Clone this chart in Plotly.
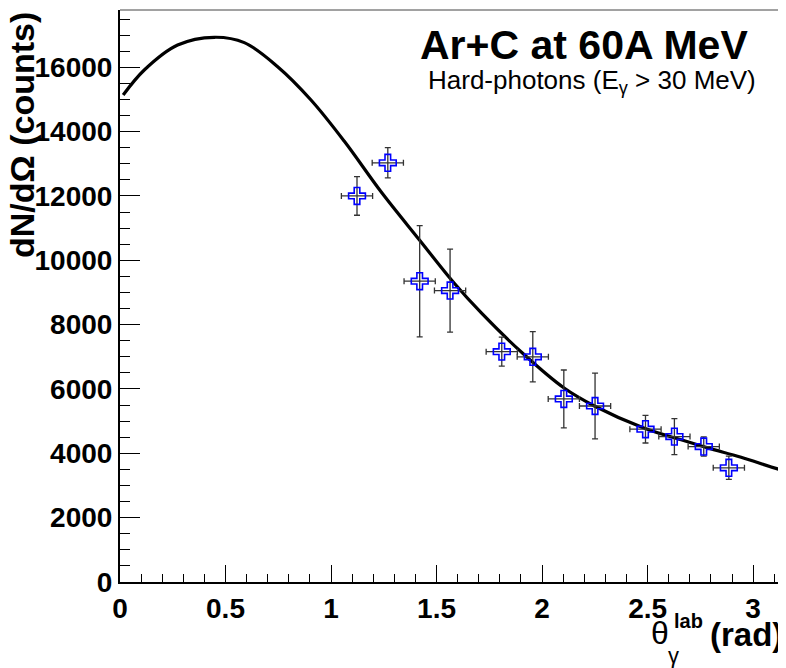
import plotly.graph_objects as go

# Data points (theta in rad, dN/dOmega in counts)
theta = [1.123, 1.269, 1.420, 1.564, 1.809, 1.956, 2.103, 2.251, 2.490, 2.627, 2.766, 2.885]
counts = [12000, 13030, 9350, 9060, 7160, 7000, 5690, 5470, 4750, 4520, 4210, 3550]
err_counts = [600, 470, 1730, 1290, 450, 780, 900, 1020, 430, 560, 300, 360]
err_theta = [0.074] * 12

# Fit curve
fit_theta = [0.015, 0.115, 0.273, 0.447, 0.589, 0.747, 0.905, 1.063, 1.237, 1.419,
             1.584, 1.711, 1.908, 2.106, 2.248, 2.485, 2.659, 2.785, 2.943, 3.124, 3.1416]
fit_counts = [15140, 15915, 16692, 16932, 16765, 16018, 14983, 13700, 12130, 10631,
              9285, 8371, 7109, 6021, 5471, 4778, 4420, 4170, 3876, 3503, 3490]

# The page body has an 8 px margin; size the figure so it fills the 786x668 window.
OFF = 8
W, H = 786 - OFF, 668 - OFF
L, R, T, B = 120, 783, 10, 582          # plot frame in window pixels


def px(xp):
    return (xp - L) / (R - L)


def py(yp):
    return (B - yp) / (B - T)


fig = go.Figure()
fig.add_trace(go.Scatter(
    x=fit_theta, y=fit_counts, mode="lines",
    line=dict(color="black", width=3.2, shape="spline", smoothing=1.0),
    showlegend=False, hoverinfo="skip"))
fig.add_trace(go.Scatter(
    x=theta, y=counts, mode="markers",
    marker=dict(symbol="cross-open", size=14, color="#0000ff", line=dict(width=1.6, color="#0000ff")),
    error_y=dict(type="data", array=err_counts, visible=True, color="#333333", thickness=1.3, width=3),
    error_x=dict(type="data", array=err_theta, visible=True, color="#333333", thickness=1.3, width=3),
    showlegend=False))

font_family = "Liberation Sans, Arial, Helvetica, sans-serif"
yt = [0, 2000, 4000, 6000, 8000, 10000, 12000, 14000, 16000]
xt = [0, 0.5, 1, 1.5, 2, 2.5, 3]
xt_text = ["0", "0.5", "1", "1.5", "2", "2.5", "3"]

fig.update_layout(
    width=W, height=H,
    margin=dict(l=L - OFF, r=786 - R, t=T - OFF, b=668 - B, autoexpand=False),
    paper_bgcolor="white", plot_bgcolor="white",
    font=dict(family=font_family, color="black"),
    xaxis=dict(range=[0, 3.14159], showgrid=False, zeroline=False,
               showline=True, linecolor="black", linewidth=2,
               ticks="inside", ticklen=17, tickwidth=1.2, tickcolor="black",
               tickvals=xt, ticktext=["<b>%s</b>" % t for t in xt_text],
               tickfont=dict(size=28, family=font_family),
               ticklabelstandoff=0,
               minor=dict(ticks="inside", ticklen=8, dtick=0.1, tick0=0, tickcolor="black", tickwidth=1.2)),
    yaxis=dict(range=[0, 17780], showgrid=False, zeroline=False,
               showline=True, linecolor="black", linewidth=2,
               ticks="inside", ticklen=20, tickwidth=1.2, tickcolor="black",
               tickvals=yt, ticktext=["<b>%d</b>" % v for v in yt],
               tickfont=dict(size=28, family=font_family),
               ticklabelstandoff=0,
               minor=dict(ticks="inside", ticklen=10, dtick=500, tick0=0, tickcolor="black", tickwidth=1.2)),
    shapes=[
        dict(type="line", xref="paper", yref="paper", x0=0, x1=1, y0=1, y1=1, line=dict(color="#444", width=1)),
        dict(type="line", xref="paper", yref="paper", x0=1, x1=1, y0=0, y1=1, line=dict(color="#444", width=1)),
    ],
    annotations=[
        dict(text="<b>Ar+C at 60A MeV</b>", xref="paper", yref="paper", x=px(418), y=py(45),
             xanchor="left", yanchor="middle", showarrow=False, font=dict(size=41, family=font_family)),
        dict(text="Hard-photons (E<sub>γ</sub> &gt; 30 MeV)", xref="paper", yref="paper", x=px(426), y=py(82),
             xanchor="left", yanchor="middle", showarrow=False, font=dict(size=26, family=font_family)),
        dict(text="<b>dN/dΩ (counts)</b>", xref="paper", yref="paper", x=px(22), y=1.0,
             xanchor="center", yanchor="top", textangle=-90, showarrow=False, font=dict(size=34, family=font_family)),
        dict(text="<b>(rad)</b>", xref="paper", yref="paper", x=px(785), y=py(634),
             xanchor="right", yanchor="middle", showarrow=False, font=dict(size=33, family=font_family)),
        dict(text="θ", xref="paper", yref="paper", x=px(660), y=py(633),
             xanchor="center", yanchor="middle", showarrow=False, font=dict(size=32, family=font_family)),
        dict(text="<b>lab</b>", xref="paper", yref="paper", x=px(688), y=py(621),
             xanchor="center", yanchor="middle", showarrow=False, font=dict(size=20, family=font_family)),
        dict(text="γ", xref="paper", yref="paper", x=px(673), y=py(655),
             xanchor="center", yanchor="middle", showarrow=False, font=dict(size=22, family=font_family)),
    ],
)

fig.write_html("out.html")
